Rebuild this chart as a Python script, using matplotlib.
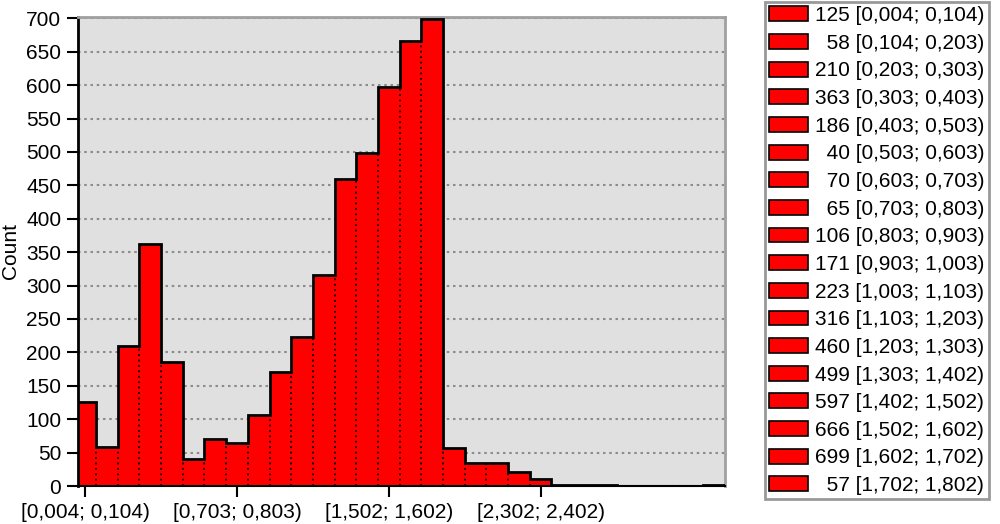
import matplotlib
matplotlib.use('Agg')
import matplotlib.pyplot as plt
from matplotlib.patches import Patch

plt.rcParams['font.family'] = ['Liberation Sans', 'DejaVu Sans']

# histogram counts, one per bin (30 bins of width ~0.1 starting at 0.004)
counts = [125, 58, 210, 363, 186, 40, 70, 65, 106, 171, 223, 316, 460, 499, 597,
          666, 699, 57, 34, 34, 21, 10, 2, 2, 2, 0, 0, 0, 0, 2]
legend_counts = counts[:18]
legend_bins = ['[0,004; 0,104)', '[0,104; 0,203)', '[0,203; 0,303)', '[0,303; 0,403)',
               '[0,403; 0,503)', '[0,503; 0,603)', '[0,603; 0,703)', '[0,703; 0,803)',
               '[0,803; 0,903)', '[0,903; 1,003)', '[1,003; 1,103)', '[1,103; 1,203)',
               '[1,203; 1,303)', '[1,303; 1,402)', '[1,402; 1,502)', '[1,502; 1,602)',
               '[1,602; 1,702)', '[1,702; 1,802)']
tick_bins = [0, 7, 14, 21]
tick_labels = ['[0,004; 0,104)', '[0,703; 0,803)', '[1,502; 1,602)', '[2,302; 2,402)']

W, H = 1000, 524
fig = plt.figure(figsize=(10, 5.24), dpi=100)
ax = fig.add_axes([78 / W, (H - 486) / H, 647 / W, 469.3 / H])
ax.set_facecolor('#E0E0E0')

n = len(counts)
x = list(range(n))
ax.bar(x, counts, width=1.0, align='edge', color='#FF0000', edgecolor='none', zorder=2)

# dotted dividers between adjacent bars
for k in range(1, n):
    h = min(counts[k - 1], counts[k])
    if h > 0:
        ax.plot([k, k], [0, h], color='black', lw=1.3, ls=(0, (1, 2)), zorder=3)

# solid outline for each run of non-empty bins
k = 0
while k < n:
    if counts[k] > 0:
        j = k
        while j < n and counts[j] > 0:
            j += 1
        ax.stairs(counts[k:j], range(k, j + 1), baseline=0, color='black', lw=2, zorder=4)
        k = j
    else:
        k += 1

ax.set_xlim(0.17, 30)
ax.set_ylim(0, 702.5)
ax.set_yticks(range(0, 701, 50))
ax.yaxis.grid(True, color='#8C8C8C', ls=(0, (1.2, 1.8)), lw=1.5)
ax.set_axisbelow(True)
ax.set_xticks([b + 0.5 for b in tick_bins])
ax.set_xticklabels(tick_labels)
ax.tick_params(axis='both', labelsize=15, length=8, width=1.5, color='black', pad=4)

for s in ['top', 'right']:
    ax.spines[s].set_color('#A0A0A0')
    ax.spines[s].set_linewidth(2)
ax.spines['left'].set_linewidth(2)
ax.spines['bottom'].set_linewidth(1.5)

ax.set_ylabel('Count', fontsize=15)
ax.yaxis.set_label_coords(-0.0904, 0.5)

handles = [Patch(facecolor='#FF0000', edgecolor='black', lw=1.2) for _ in legend_counts]
labels = []
for c, b in zip(legend_counts, legend_bins):
    s = str(c)
    labels.append('\u2007' * (3 - len(s)) + s + ' ' + b)
leg = fig.legend(handles, labels, loc='upper left', bbox_to_anchor=(765 / W, 1 - 2 / H),
                 fontsize=15, frameon=True, fancybox=False, borderaxespad=0,
                 handlelength=1.85, handleheight=0.72, handletextpad=0.35,
                 labelspacing=0.415, borderpad=0.2)
leg.get_frame().set_edgecolor('#808080')
leg.get_frame().set_linewidth(2)

fig.savefig('out.png', dpi=100)
